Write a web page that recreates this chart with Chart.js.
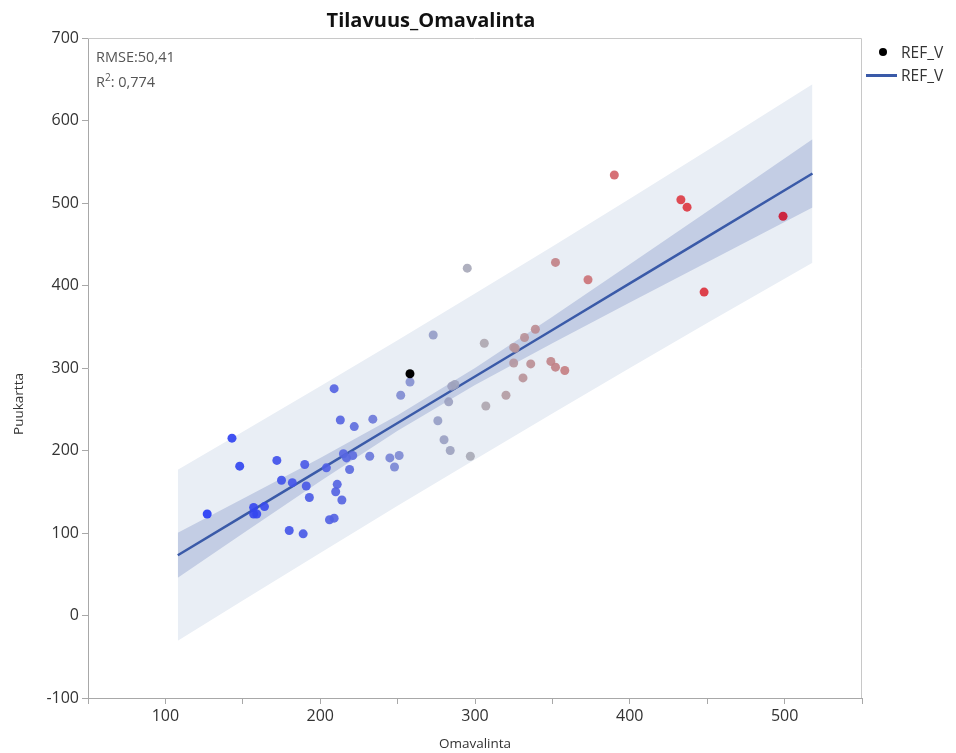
<!DOCTYPE html>
<html>
<head>
<meta charset="utf-8">
<script src="https://cdn.jsdelivr.net/npm/chart.js@4.4.1/dist/chart.umd.min.js"></script>
<style>
  html, body { margin: 0; padding: 0; background: #fff; }
  #wrap { position: relative; width: 956px; height: 753px; font-family: "Open Sans", "Noto Sans", sans-serif; }
  #c { position: absolute; left: 0; top: 0; }
  .title { position: absolute; left: 0; width: 862px; top: 6px; text-align: center; font-weight: bold; font-size: 20px; color: #111; }
  .stat { position: absolute; left: 96px; font-size: 14.5px; color: #555; }
  .leg { position: absolute; left: 901px; font-size: 15.5px; color: #333; }
  .legdot { position: absolute; left: 879px; top: 48px; width: 8px; height: 8px; border-radius: 50%; background: #000; }
  .legline { position: absolute; left: 866px; top: 74px; width: 31px; height: 2.5px; background: #3a5aa8; }
</style>
</head>
<body>
<div id="wrap">
  <canvas id="c" width="956" height="753"></canvas>
  <div class="title">Tilavuus_Omavalinta</div>
  <div class="stat" style="top:47px">RMSE:50,41</div>
  <div class="stat" style="top:70px">R<sup style="font-size:10px">2</sup>: 0,774</div>
  <div class="legdot"></div>
  <div class="leg" style="top:41px">REF_V</div>
  <div class="legline"></div>
  <div class="leg" style="top:64px">REF_V</div>
</div>
<script>
// Omavalinta (x) and Puukartta (y) for each stand
const omavalinta = [127, 143, 148, 157, 157, 159, 164, 172, 175, 180, 182, 189, 190, 191, 193,
  204, 206, 209, 209, 211, 210, 213, 214, 215, 217, 221, 219, 222, 232, 234, 245, 248, 251, 252,
  258, 273, 276, 280, 283, 284, 285, 287, 295, 297, 306, 307, 320, 325, 326, 325, 331, 332, 336,
  339, 349, 352, 352, 358, 373, 390, 433, 437, 448, 499];
const puukartta = [123, 215, 181, 131, 123, 123, 132, 188, 164, 103, 161, 99, 183, 157, 143,
  179, 116, 118, 275, 159, 150, 237, 140, 196, 191, 194, 177, 229, 193, 238, 191, 180, 194, 267,
  283, 340, 236, 213, 259, 200, 278, 280, 421, 193, 330, 254, 267, 325, 324, 306, 288, 337, 305,
  347, 308, 301, 428, 297, 407, 534, 504, 495, 392, 484];

// Reference stand REF_V
const refX = [258];
const refY = [293];

// Fitted line and its bands, read at these Omavalinta positions
const bandX = [108, 150, 200, 250, 300, 350, 400, 450, 518];
const fitY = [73.0, 120.4, 176.8, 233.3, 289.7, 346.1, 402.6, 459.0, 535.8];
const confUpper = [100.3, 141.4, 191.0, 242.7, 300.1, 362.1, 425.8, 489.8, 577.2];
const confLower = [45.7, 99.4, 162.6, 223.9, 279.3, 330.1, 379.4, 428.2, 494.4];
const predUpper = [176.7, 222.6, 277.8, 333.7, 390.2, 447.4, 505.2, 563.6, 644.0];
const predLower = [-30.7, 18.2, 75.8, 132.9, 189.2, 244.8, 300.0, 354.4, 427.6];

// Blue - grey - red colour ramp over Omavalinta
const ramp = [
  [127, 35, 55, 245], [215, 85, 100, 225], [265, 140, 150, 205], [300, 170, 170, 180],
  [350, 192, 130, 135], [400, 215, 90, 95], [440, 222, 50, 60], [499, 205, 20, 45]
];
function rampColor(v) {
  if (v <= ramp[0][0]) return `rgba(${ramp[0][1]},${ramp[0][2]},${ramp[0][3]},0.9)`;
  for (let i = 1; i < ramp.length; i++) {
    if (v <= ramp[i][0]) {
      const a = ramp[i - 1], b = ramp[i];
      const t = (v - a[0]) / (b[0] - a[0]);
      const c = [1, 2, 3].map(k => Math.round(a[k] + (b[k] - a[k]) * t));
      return `rgba(${c[0]},${c[1]},${c[2]},0.9)`;
    }
  }
  const l = ramp[ramp.length - 1];
  return `rgba(${l[1]},${l[2]},${l[3]},0.9)`;
}

const pts = (xs, ys) => xs.map((x, i) => ({ x, y: ys[i] }));
const FONT = '"Open Sans", "Noto Sans", sans-serif';

// Light frame on the top and right of the plot, plus the vertical axis title
const frame = {
  id: 'frame',
  afterDraw(chart) {
    const a = chart.chartArea, ctx = chart.ctx;
    ctx.save();
    ctx.strokeStyle = '#c8c8c8';
    ctx.lineWidth = 1;
    ctx.beginPath();
    ctx.moveTo(a.left, a.top + 0.5);
    ctx.lineTo(a.right - 0.5, a.top + 0.5);
    ctx.lineTo(a.right - 0.5, a.bottom);
    ctx.stroke();
    ctx.translate(19, 404);
    ctx.rotate(-Math.PI / 2);
    ctx.fillStyle = '#333';
    ctx.font = `13.5px ${FONT}`;
    ctx.textAlign = 'center';
    ctx.textBaseline = 'middle';
    ctx.fillText('Puukartta', 0, 0);
    ctx.restore();
  }
};

const lineBase = { type: 'line', pointRadius: 0, borderWidth: 0, tension: 0, showLine: true };
const tickFont = { family: FONT, size: 16 };

new Chart(document.getElementById('c'), {
  data: {
    datasets: [
      { type: 'scatter', label: 'REF_V', data: pts(refX, refY), order: 0,
        pointRadius: 4.5, pointBackgroundColor: '#000', pointBorderWidth: 0 },
      { type: 'scatter', label: 'Puukartta', data: pts(omavalinta, puukartta), order: 1,
        pointRadius: 4.5, pointBorderWidth: 0,
        pointBackgroundColor: omavalinta.map(rampColor) },
      { ...lineBase, label: 'REF_V', data: pts(bandX, fitY), order: 2,
        borderWidth: 2.5, borderColor: '#3a5aa8', fill: false },
      { ...lineBase, label: 'conf-hi', data: pts(bandX, confUpper), order: 3,
        fill: '+1', backgroundColor: '#c3cde4' },
      { ...lineBase, label: 'conf-lo', data: pts(bandX, confLower), order: 4, fill: false },
      { ...lineBase, label: 'pred-hi', data: pts(bandX, predUpper), order: 5,
        fill: '+1', backgroundColor: '#e9eef5' },
      { ...lineBase, label: 'pred-lo', data: pts(bandX, predLower), order: 6, fill: false }
    ]
  },
  options: {
    responsive: false,
    animation: false,
    layout: { padding: { left: 0, top: 38, right: 94, bottom: 0 } },
    plugins: { legend: { display: false }, tooltip: { enabled: false }, title: { display: false } },
    scales: {
      x: {
        type: 'linear', min: 50, max: 550,
        afterFit(s) { s.height = 55; },
        border: { display: true, color: '#a8a8a8', width: 1 },
        grid: { drawOnChartArea: false, drawTicks: true, tickLength: 6, color: '#a8a8a8' },
        ticks: { stepSize: 50, autoSkip: false, maxRotation: 0, padding: 3, color: '#333',
          font: tickFont,
          callback: v => (v % 100 === 0 ? String(v) : '') },
        title: { display: true, text: 'Omavalinta', color: '#333', padding: { top: 0, bottom: 1 },
          font: { family: FONT, size: 13.5 } }
      },
      y: {
        type: 'linear', min: -100, max: 700,
        afterFit(s) { s.width = 88; },
        border: { display: true, color: '#a8a8a8', width: 1 },
        grid: { drawOnChartArea: false, drawTicks: true, tickLength: 6, color: '#a8a8a8' },
        ticks: { stepSize: 100, padding: 3, color: '#333', font: tickFont }
      }
    }
  },
  plugins: [frame]
});
</script>
</body>
</html>
